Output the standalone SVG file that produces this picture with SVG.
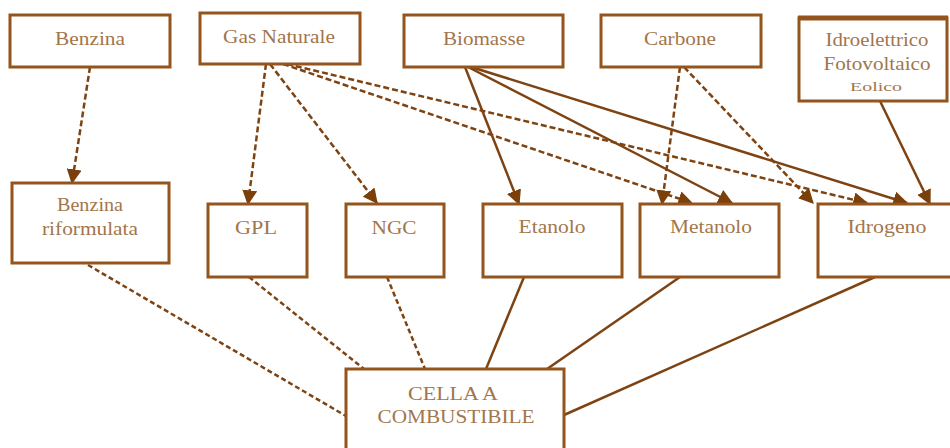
<svg xmlns="http://www.w3.org/2000/svg" width="950" height="448" viewBox="0 0 950 448">
<defs>
<style>
.box{fill:#fff;stroke:#94541c;stroke-width:3}
.t{font-family:"Liberation Serif","Times New Roman",serif;font-size:18px;fill:#a2764c;text-anchor:middle}
.s{font-size:12px}
.c{fill:none;stroke:#7e4312;stroke-width:2.5}
.d{stroke-dasharray:6 3}
.d2{stroke-dasharray:5 3}
.a{marker-end:url(#arr)}
</style>
<marker id="arr" viewBox="0 0 12 12" refX="11" refY="6" markerWidth="15" markerHeight="15" markerUnits="userSpaceOnUse" orient="auto">
<path d="M0,0 L12,6 L0,12 z" fill="#7a3f0a"/>
</marker>
</defs>
<rect width="950" height="448" fill="#fff"/>
<g id="connectors">
<path class="c d a" d="M90,67 L72,183"/>
<path class="c d a" d="M266,64 L248,204"/>
<path class="c d a" d="M270,64 L377,203"/>
<path class="c d a" d="M283,64 L692,203"/>
<path class="c d a" d="M287,64 L867,203"/>
<path class="c a" d="M465,67 L519,204"/>
<path class="c a" d="M468,67 L732,203"/>
<path class="c a" d="M471,67 L907,203"/>
<path class="c d a" d="M680,67 L662,204"/>
<path class="c d a" d="M684,67 L813,203"/>
<path class="c a" d="M880,101 L930,204"/>
<path class="c d2" d="M88,265 L346,416"/>
<path class="c d2" d="M249,277 L364,369"/>
<path class="c d2" d="M387,277 L425,369"/>
<path class="c" d="M524,277 L486,369"/>
<path class="c" d="M680,277 L547,369"/>
<path class="c" d="M875,277 L564,415"/>
</g>
<g id="benzina"><rect class="box" x="10" y="15" width="160" height="52"/><text class="t" x="90" y="45" textLength="70" lengthAdjust="spacingAndGlyphs">Benzina</text></g>
<g id="gas-naturale"><rect class="box" x="200" y="13" width="160" height="51"/><text class="t" x="279" y="43" textLength="112" lengthAdjust="spacingAndGlyphs">Gas Naturale</text></g>
<g id="biomasse"><rect class="box" x="404" y="15" width="159" height="52"/><text class="t" x="484" y="45" textLength="82" lengthAdjust="spacingAndGlyphs">Biomasse</text></g>
<g id="carbone"><rect class="box" x="601" y="15" width="160" height="52"/><text class="t" x="680" y="45" textLength="72" lengthAdjust="spacingAndGlyphs">Carbone</text></g>
<g id="rinnovabili"><rect class="box" x="799" y="18" width="148" height="83"/><line x1="798" y1="18" x2="948" y2="18" stroke="#94541c" stroke-width="5"/>
<text class="t" x="877" y="46" textLength="103" lengthAdjust="spacingAndGlyphs">Idroelettrico</text>
<text class="t" x="877" y="70" textLength="107" lengthAdjust="spacingAndGlyphs">Fotovoltaico</text>
<text class="t s" x="876" y="91" textLength="52" lengthAdjust="spacingAndGlyphs">Eolico</text></g>
<g id="benzina-riformulata"><rect class="box" x="12" y="183" width="157" height="80"/><text class="t" x="90" y="211" textLength="66" lengthAdjust="spacingAndGlyphs">Benzina</text><text class="t" x="90" y="235" textLength="96" lengthAdjust="spacingAndGlyphs">riformulata</text></g>
<g id="gpl"><rect class="box" x="208" y="204" width="99" height="73"/><text class="t" x="256" y="234" textLength="42" lengthAdjust="spacingAndGlyphs">GPL</text></g>
<g id="ngc"><rect class="box" x="346" y="204" width="98" height="73"/><text class="t" x="394" y="234" textLength="45" lengthAdjust="spacingAndGlyphs">NGC</text></g>
<g id="etanolo"><rect class="box" x="483" y="204" width="139" height="73"/><text class="t" x="552" y="233" textLength="67" lengthAdjust="spacingAndGlyphs">Etanolo</text></g>
<g id="metanolo"><rect class="box" x="640" y="204" width="139" height="73"/><text class="t" x="711" y="233" textLength="82" lengthAdjust="spacingAndGlyphs">Metanolo</text></g>
<g id="idrogeno"><rect class="box" x="818" y="204" width="140" height="73"/><text class="t" x="887" y="233" textLength="79" lengthAdjust="spacingAndGlyphs">Idrogeno</text></g>
<g id="cella"><rect class="box" x="346" y="369" width="218" height="90"/><text class="t" x="453" y="400" textLength="90" lengthAdjust="spacingAndGlyphs">CELLA A</text><text class="t" x="456" y="423" textLength="157" lengthAdjust="spacingAndGlyphs">COMBUSTIBILE</text></g>
</svg>
